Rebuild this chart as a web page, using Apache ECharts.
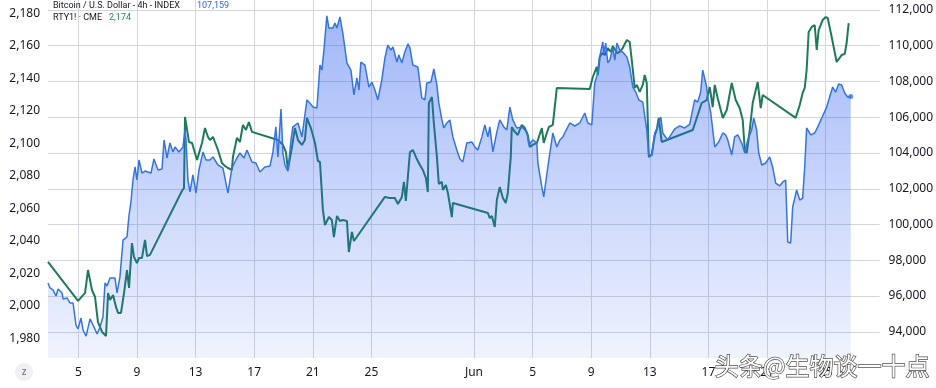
<!DOCTYPE html>
<html>
<head>
<meta charset="utf-8">
<script src="https://cdn.jsdelivr.net/npm/echarts@6/dist/echarts.min.js"></script>
<style>
html,body{margin:0;padding:0;background:#fff;}
#chart{width:936px;height:388px;}
</style>
</head>
<body>
<div id="chart"></div>
<script>
// x values are days counted from May 1 (=1); Jun 1 = 32
const dayTicks = [5, 9, 13, 17, 21, 25, 32, 36, 40, 44, 48, 52, 56];
const btcTicks = [94000, 96000, 98000, 100000, 102000, 104000, 106000, 108000, 110000, 112000];
const rtyTicks = [1980, 2000, 2020, 2040, 2060, 2080, 2100, 2120, 2140, 2160, 2180];

// Bitcoin / U.S. Dollar - 4h
const btcData = [[2.93,96730],[3.07,96450],[3.27,96340],[3.48,96000],[3.62,96390],[3.89,96170],[3.96,95830],[4.23,95890],[4.43,95610],[4.64,95610],[4.84,94380],[4.98,94160],[5.18,94770],[5.32,94100],[5.53,93760],[5.80,94720],[6.00,94380],[6.28,93880],[6.48,94270],[6.68,94830],[6.82,96730],[6.96,96560],[7.16,97010],[7.50,97010],[7.64,96170],[7.84,97070],[8.05,99130],[8.32,99300],[8.46,100530],[8.59,101260],[8.73,102490],[8.87,103220],[9.00,102490],[9.14,103610],[9.34,102880],[9.55,102990],[9.75,102940],[9.96,102880],[10.16,103670],[10.44,103050],[10.71,103110],[10.85,104730],[11.05,103720],[11.25,104560],[11.46,104060],[11.60,104340],[11.87,104060],[12.14,104340],[12.28,105290],[12.35,104730],[12.48,102490],[12.62,101820],[12.82,102770],[13.03,101760],[13.23,103050],[13.51,104060],[13.71,103610],[13.98,103610],[14.19,103780],[14.53,103330],[14.87,103160],[15.21,101760],[15.48,103160],[15.82,103720],[16.03,104000],[16.30,103720],[16.51,104170],[16.85,103500],[17.12,103440],[17.39,102940],[17.73,103220],[18.08,103270],[18.28,104060],[18.48,105460],[18.62,103780],[18.83,106460],[18.96,104000],[19.10,103330],[19.30,102990],[19.51,104730],[19.64,105460],[19.99,105680],[20.26,104900],[20.60,106970],[20.80,106800],[21.01,106570],[21.28,106520],[21.49,108920],[21.62,108640],[21.76,109760],[21.96,111670],[22.10,110990],[22.37,110990],[22.51,111270],[22.65,110990],[22.85,111610],[23.05,110710],[23.33,109040],[23.60,108640],[23.81,107250],[24.01,108200],[24.15,107520],[24.28,109090],[24.56,108920],[24.69,108810],[24.83,107690],[25.03,107970],[25.24,107520],[25.44,106970],[25.71,108090],[25.92,109310],[26.12,110040],[26.33,109760],[26.47,109930],[26.74,109090],[26.87,109480],[27.08,109040],[27.28,109650],[27.49,110100],[27.63,109880],[27.83,108920],[28.17,108810],[28.44,107080],[28.65,106970],[28.78,107920],[29.06,107970],[29.26,108700],[29.47,107800],[29.60,106800],[29.81,105850],[29.94,105400],[30.15,105680],[30.35,105850],[30.56,104900],[30.83,104170],[31.04,103670],[31.24,103500],[31.51,104560],[31.85,104620],[32.06,104340],[32.26,104170],[32.54,104900],[32.74,105570],[32.95,104900],[33.08,105460],[33.29,104060],[33.56,105180],[33.76,105850],[34.04,105460],[34.24,105290],[34.45,106570],[34.65,105850],[34.92,105400],[35.26,105460],[35.61,105180],[35.74,104450],[36.01,104730],[36.29,104560],[36.36,103440],[36.63,102100],[36.76,101540],[37.04,103220],[37.38,105120],[37.65,104340],[37.86,104730],[38.06,104900],[38.54,105680],[38.88,105510],[39.22,105680],[39.56,106240],[39.77,105680],[40.04,105570],[40.24,107920],[40.45,108480],[40.58,109370],[40.79,110210],[40.86,109600],[40.99,110150],[41.13,109040],[41.27,109200],[41.47,109880],[41.61,109200],[41.75,110150],[41.95,109760],[42.15,109650],[42.43,109370],[42.63,108810],[42.84,107690],[43.04,107410],[43.25,106970],[43.52,106850],[43.79,105290],[43.93,103890],[44.13,103890],[44.34,105120],[44.54,105460],[44.75,106010],[44.88,105120],[45.22,104730],[45.70,105350],[46.04,105520],[46.38,105400],[46.72,105600],[47.06,106970],[47.27,106850],[47.47,107410],[47.61,108640],[47.88,107690],[47.95,107130],[48.16,106240],[48.43,104340],[48.70,104620],[48.98,105120],[49.18,105010],[49.32,104730],[49.59,103890],[49.79,104900],[50.00,105010],[50.27,104560],[50.48,104000],[50.68,104730],[50.95,105290],[51.09,105960],[51.29,105290],[51.43,104000],[51.64,103330],[51.91,103440],[52.18,103780],[52.38,103220],[52.59,102320],[52.86,102160],[53.07,102380],[53.27,102490],[53.41,99020],[53.61,98970],[53.75,100980],[54.02,101930],[54.23,101370],[54.43,101480],[54.57,103220],[54.70,105400],[54.98,105010],[55.25,105120],[55.46,105460],[55.73,105960],[56.07,106570],[56.27,107130],[56.48,107690],[56.68,107410],[56.89,107860],[57.09,107800],[57.30,107360],[57.50,107130],[57.71,107159]];

// RTY1! - CME (futures, weekend gaps)
const rtyData = [[2.93,2027.0],[4.98,2003.0],[5.46,2007.9],[5.66,2022.0],[5.93,2009.7],[6.14,2005.4],[6.34,1990.0],[6.62,1983.9],[6.89,1981.4],[7.03,2007.9],[7.16,2003.6],[7.37,2006.6],[7.57,1999.3],[7.71,1995.6],[7.91,1995.6],[8.12,2007.9],[8.32,2022.0],[8.46,2011.0],[8.66,2038.6],[8.80,2030.0],[9.00,2026.3],[9.14,2029.4],[9.34,2029.4],[9.55,2040.5],[9.69,2030.6],[9.89,2031.3],[12.07,2070.6],[12.14,2069.4],[12.21,2072.5],[12.28,2116.2],[12.41,2115.6],[12.55,2100.8],[12.76,2100.2],[12.89,2101.4],[13.10,2089.7],[13.23,2089.1],[13.44,2100.2],[13.64,2109.4],[13.85,2103.9],[13.98,2102.0],[14.19,2103.9],[14.32,2100.8],[14.53,2095.9],[14.80,2087.9],[15.01,2086.0],[15.21,2084.8],[15.48,2083.6],[15.55,2091.6],[15.82,2103.3],[16.03,2100.8],[16.23,2111.3],[16.44,2108.2],[16.64,2113.1],[16.85,2107.0],[18.62,2102.0],[18.76,2100.8],[18.96,2099.0],[19.17,2094.6],[19.30,2083.6],[19.58,2097.7],[19.78,2109.4],[19.99,2102.0],[20.26,2099.0],[20.46,2102.0],[20.60,2115.6],[20.87,2109.4],[21.15,2100.2],[21.35,2089.1],[21.49,2088.5],[21.69,2059.0],[21.83,2049.7],[22.10,2054.6],[22.30,2052.8],[22.44,2042.3],[22.65,2055.3],[22.85,2052.2],[23.05,2052.8],[23.33,2052.2],[23.46,2033.1],[23.67,2045.4],[23.81,2039.9],[25.92,2067.0],[26.26,2066.3],[26.60,2066.3],[26.81,2062.6],[27.08,2067.0],[27.22,2076.2],[27.35,2064.5],[27.63,2094.6],[27.83,2095.9],[28.10,2090.3],[28.31,2086.6],[28.51,2083.6],[28.72,2078.6],[28.85,2070.0],[28.92,2124.8],[29.13,2128.5],[29.26,2112.5],[29.47,2091.6],[29.60,2075.0],[29.81,2076.2],[29.88,2071.3],[30.08,2074.3],[30.22,2069.4],[30.49,2054.6],[30.56,2063.3],[30.69,2063.3],[32.95,2057.1],[33.08,2054.0],[33.22,2055.3],[33.42,2048.5],[33.56,2065.1],[33.76,2073.1],[33.97,2066.3],[34.17,2063.3],[34.31,2069.4],[34.51,2091.6],[34.58,2110.0],[34.79,2107.0],[34.99,2105.1],[35.26,2111.3],[35.47,2109.4],[35.67,2105.1],[35.81,2097.7],[36.01,2099.0],[36.29,2100.2],[36.42,2100.8],[36.63,2109.4],[36.76,2100.2],[36.97,2106.3],[37.11,2110.0],[37.38,2111.3],[37.65,2134.0],[39.90,2133.4],[40.11,2140.8],[40.38,2147.0],[40.45,2142.0],[40.58,2153.1],[40.79,2155.6],[40.93,2154.3],[41.13,2158.6],[41.34,2156.2],[41.47,2159.9],[41.75,2155.6],[41.95,2156.2],[42.15,2158.6],[42.43,2163.6],[42.63,2162.3],[42.84,2145.1],[42.97,2134.0],[43.11,2135.9],[43.31,2131.6],[43.52,2135.9],[43.65,2142.0],[43.79,2137.1],[43.93,2091.6],[44.13,2092.8],[44.34,2105.1],[44.47,2108.2],[44.61,2115.6],[44.81,2100.8],[46.93,2108.2],[47.27,2117.4],[47.54,2124.8],[47.88,2126.6],[48.09,2134.6],[48.29,2122.3],[48.43,2135.9],[48.63,2127.9],[48.98,2115.6],[49.25,2120.5],[49.59,2137.1],[49.86,2126.6],[50.13,2121.7],[50.34,2114.3],[50.48,2095.9],[50.61,2094.0],[50.82,2108.2],[51.02,2124.8],[51.36,2137.7],[51.57,2121.7],[51.70,2129.7],[53.95,2115.6],[54.23,2123.6],[54.43,2131.0],[54.57,2134.0],[54.70,2145.1],[54.84,2168.5],[55.05,2171.6],[55.25,2172.8],[55.39,2157.4],[55.52,2169.7],[55.80,2175.9],[56.00,2177.7],[56.14,2177.1],[56.41,2165.4],[56.75,2150.0],[57.09,2154.3],[57.30,2155.0],[57.43,2161.7],[57.57,2174]];

const fmt = v => Math.round(v).toLocaleString('en-US');
const btcLast = btcData[btcData.length - 1];
const rtyLast = rtyData[rtyData.length - 1];

const chart = echarts.init(document.getElementById('chart'), null, {renderer: 'canvas'});
const labelFont = {fontFamily: 'Noto Sans', fontSize: 12, color: '#131722'};

chart.setOption({
  animation: false,
  backgroundColor: '#ffffff',
  grid: {left: 48, right: 56, top: 0, bottom: 30, containLabel: false},
  xAxis: {
    type: 'value', min: 2.93, max: 59.68,
    axisLine: {show: false},
    axisTick: {show: false, customValues: dayTicks},
    axisLabel: Object.assign({
      customValues: dayTicks, margin: 9,
      formatter: v => v === 32 ? 'Jun' : String(v > 31 ? v - 31 : v)
    }, labelFont),
    splitLine: {show: true, lineStyle: {color: '#d3d6dc', width: 1}}
  },
  yAxis: [
    {
      type: 'value', position: 'left', min: 1967.87, max: 2188.18,
      axisLine: {show: false},
      axisTick: {show: false, customValues: rtyTicks},
      axisLabel: Object.assign({customValues: rtyTicks, margin: 8, formatter: fmt}, labelFont),
      splitLine: {show: false}
    },
    {
      type: 'value', position: 'right', min: 92533, max: 112559,
      axisLine: {show: false},
      axisTick: {show: false, customValues: btcTicks},
      axisLabel: Object.assign({customValues: btcTicks, margin: 9, formatter: fmt}, labelFont),
      splitLine: {show: true, lineStyle: {color: '#d3d6dc', width: 1}}
    }
  ],
  series: [
    {
      name: 'RTY1!', type: 'line', yAxisIndex: 0, data: rtyData,
      showSymbol: false, z: 2,
      lineStyle: {color: '#1e7a5c', width: 2}
    },
    {
      name: 'BTCUSD', type: 'line', yAxisIndex: 1, data: btcData,
      showSymbol: false, z: 3,
      lineStyle: {color: '#3574e0', width: 1.5},
      areaStyle: {
        origin: 'start',
        color: new echarts.graphic.LinearGradient(0, 0, 0, 1, [
          {offset: 0, color: 'rgba(45,95,240,0.64)'},
          {offset: 1, color: 'rgba(45,95,240,0.10)'}
        ])
      }
    },
    {
      type: 'scatter', yAxisIndex: 1, data: [btcLast], symbolSize: 5, z: 4,
      itemStyle: {color: '#3574e0'}
    }
  ],
  graphic: [
    {type: 'text', left: 53, top: 1, z: 10, style: {text: 'Bitcoin / U.S. Dollar - 4h - INDEX', font: '9px Roboto', fill: '#131722'}},
    {type: 'text', left: 197, top: 1, z: 10, style: {text: fmt(btcLast[1]), font: '9px Roboto', fill: '#2962ff'}},
    {type: 'text', left: 53, top: 13, z: 10, style: {text: 'RTY1! · CME', font: '9px Roboto', fill: '#131722'}},
    {type: 'text', left: 109, top: 13, z: 10, style: {text: fmt(rtyLast[1]), font: '9px Roboto', fill: '#1e8a6e'}},
    {type: 'circle', shape: {cx: 24, cy: 372, r: 9}, z: 10, style: {fill: '#f0f1f4'}},
    {type: 'text', x: 24, y: 372, z: 11, style: {text: 'z', font: '10px "Noto Sans"', fill: '#6a6d78', align: 'center', verticalAlign: 'middle'}},
    {type: 'text', left: 714, top: 353, z: 20, style: {
      text: '头条@生物谈一十点', font: '24px "Noto Sans CJK SC"', fill: '#ffffff',
      stroke: 'rgba(60,60,60,0.9)', lineWidth: 1.4
    }}
  ]
});
</script>
</body>
</html>
